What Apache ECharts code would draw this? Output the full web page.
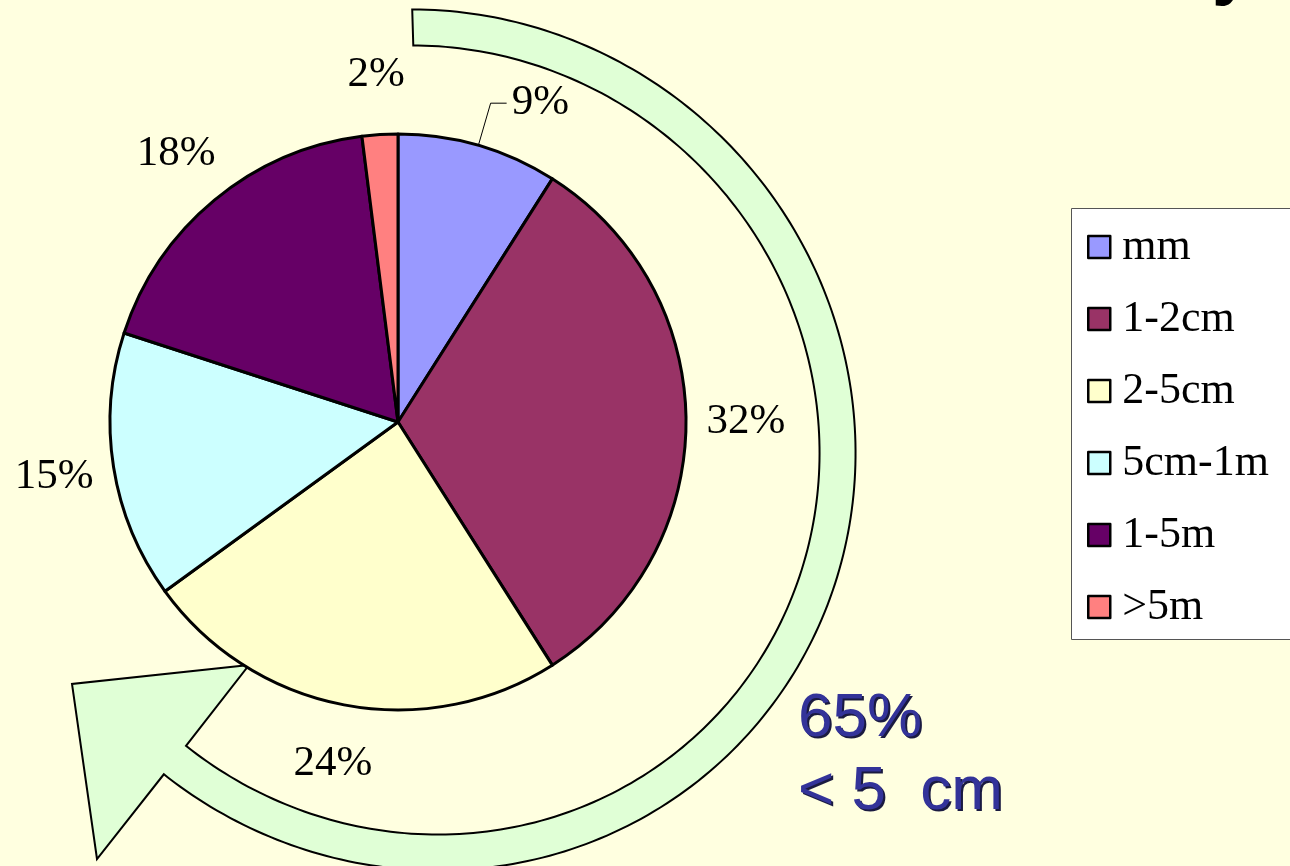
<!DOCTYPE html>
<html>
<head>
<meta charset="utf-8">
<script src="https://cdn.jsdelivr.net/npm/echarts@6/dist/echarts.min.js"></script>
<style>
  html, body { margin: 0; padding: 0; background: #FFFFE0; }
  #chart { width: 1290px; height: 866px; }
</style>
</head>
<body>
<div id="chart"></div>
<script>
// size classes and their share (%)
var categories = ['mm', '1-2cm', '2-5cm', '5cm-1m', '1-5m', '>5m'];
var shares = [9, 32, 24, 15, 18, 2];
var sliceColors = ['#9999FF', '#993366', '#FFFFCC', '#CCFFFF', '#660066', '#FF8080'];
var noteLines = ['65%', '< 5  cm'];

var chart = echarts.init(document.getElementById('chart'));

var pieCenter = [398, 422];
var pieRadius = 288;
var labelRadius = 348;

// mid angle of every slice, clockwise from 12 o'clock
var total = shares.reduce(function (s, v) { return s + v; }, 0);
var midAngles = [];
var acc = 0;
shares.forEach(function (v) {
  midAngles.push((acc + v / 2) / total * 360);
  acc += v;
});

/* ---------- curved arrow round the pie (decoration) ---------- */
var arrowCenter = [425, 440];
var arrowTilt = -45;
function ringPoint(deg, a, b) {
  var t = (deg - arrowTilt) * Math.PI / 180;
  var r = 1 / Math.sqrt(Math.pow(Math.cos(t) / a, 2) + Math.pow(Math.sin(t) / b, 2));
  var rad = deg * Math.PI / 180;
  return [arrowCenter[0] + r * Math.cos(rad), arrowCenter[1] - r * Math.sin(rad)];
}
var arrowPts = [];
var d;
for (d = 91.7; d > -128; d -= 1) arrowPts.push(ringPoint(d, 437, 424));
arrowPts.push(ringPoint(-128, 437, 424));
arrowPts.push([97, 859], [72, 684], [249, 665]);
for (d = -128; d < 91.7; d += 1) arrowPts.push(ringPoint(d, 401, 388));
arrowPts.push(ringPoint(91.7, 401, 388));

var noteFont = '62px "Liberation Sans", Arial, sans-serif';
var noteY = [719, 792];
var graphics = [{
  type: 'polygon',
  z: 0,
  shape: { points: arrowPts },
  style: { fill: '#E0FFD6', stroke: '#000', lineWidth: 2 }
}, {
  // legend frame, runs off the right edge like the original
  type: 'rect',
  z: 0,
  shape: { x: 1071.5, y: 208.5, width: 300, height: 431 },
  style: { fill: '#FFFFFF', stroke: '#555', lineWidth: 1 }
}, {
  // descender of the cut-off title
  type: 'text', x: 1212, y: 7,
  style: { text: 'y', fill: '#000', font: 'bold 72px "Liberation Sans", Arial', verticalAlign: 'bottom' }
}];
noteLines.forEach(function (t, i) {
  graphics.push({
    type: 'text', x: 800, y: noteY[i] + 2, z: 5,
    style: { text: t, fill: '#1a1a40', font: noteFont, align: 'left', verticalAlign: 'middle' }
  });
  graphics.push({
    type: 'text', x: 798, y: noteY[i], z: 6,
    style: { text: t, fill: '#333399', font: noteFont, align: 'left', verticalAlign: 'middle' }
  });
});

var option = {
  backgroundColor: '#FFFFE0',
  animation: false,
  graphic: graphics,
  legend: {
    orient: 'vertical',
    left: 1071,
    top: 208,
    padding: [14, 10, 10, 16],
    itemGap: 22,
    itemWidth: 22,
    itemHeight: 22,
    icon: 'rect',
    selectedMode: false,
    itemStyle: { borderColor: '#000', borderWidth: 2.5 },
    textStyle: {
      fontFamily: '"Liberation Serif", "Times New Roman", serif',
      fontSize: 44,
      color: '#000',
      lineHeight: 50,
      padding: [0, 0, 0, 7]
    },
    data: categories
  },
  series: [{
    type: 'pie',
    center: pieCenter,
    radius: pieRadius,
    startAngle: 90,
    clockwise: true,
    avoidLabelOverlap: false,
    emphasis: { disabled: true },
    itemStyle: { borderColor: '#000', borderWidth: 3 },
    label: {
      show: true,
      position: 'outside',
      formatter: '{d}%',
      color: '#000',
      fontFamily: '"Liberation Serif", "Times New Roman", serif',
      fontSize: 43
    },
    labelLine: { show: false },
    labelLayout: function (p) {
      var i = p.dataIndex;
      if (i === 0) return {}; // keeps its leader line
      var rad = midAngles[i] * Math.PI / 180;
      return {
        x: pieCenter[0] + labelRadius * Math.sin(rad),
        y: pieCenter[1] - labelRadius * Math.cos(rad),
        align: 'center',
        verticalAlign: 'middle'
      };
    },
    data: categories.map(function (c, i) {
      var item = { name: c, value: shares[i], itemStyle: { color: sliceColors[i] } };
      if (i === 0) {
        item.labelLine = { show: true, length: 44, length2: 16, lineStyle: { color: '#000', width: 1 } };
      }
      return item;
    })
  }]
};

chart.setOption(option);
</script>
</body>
</html>
